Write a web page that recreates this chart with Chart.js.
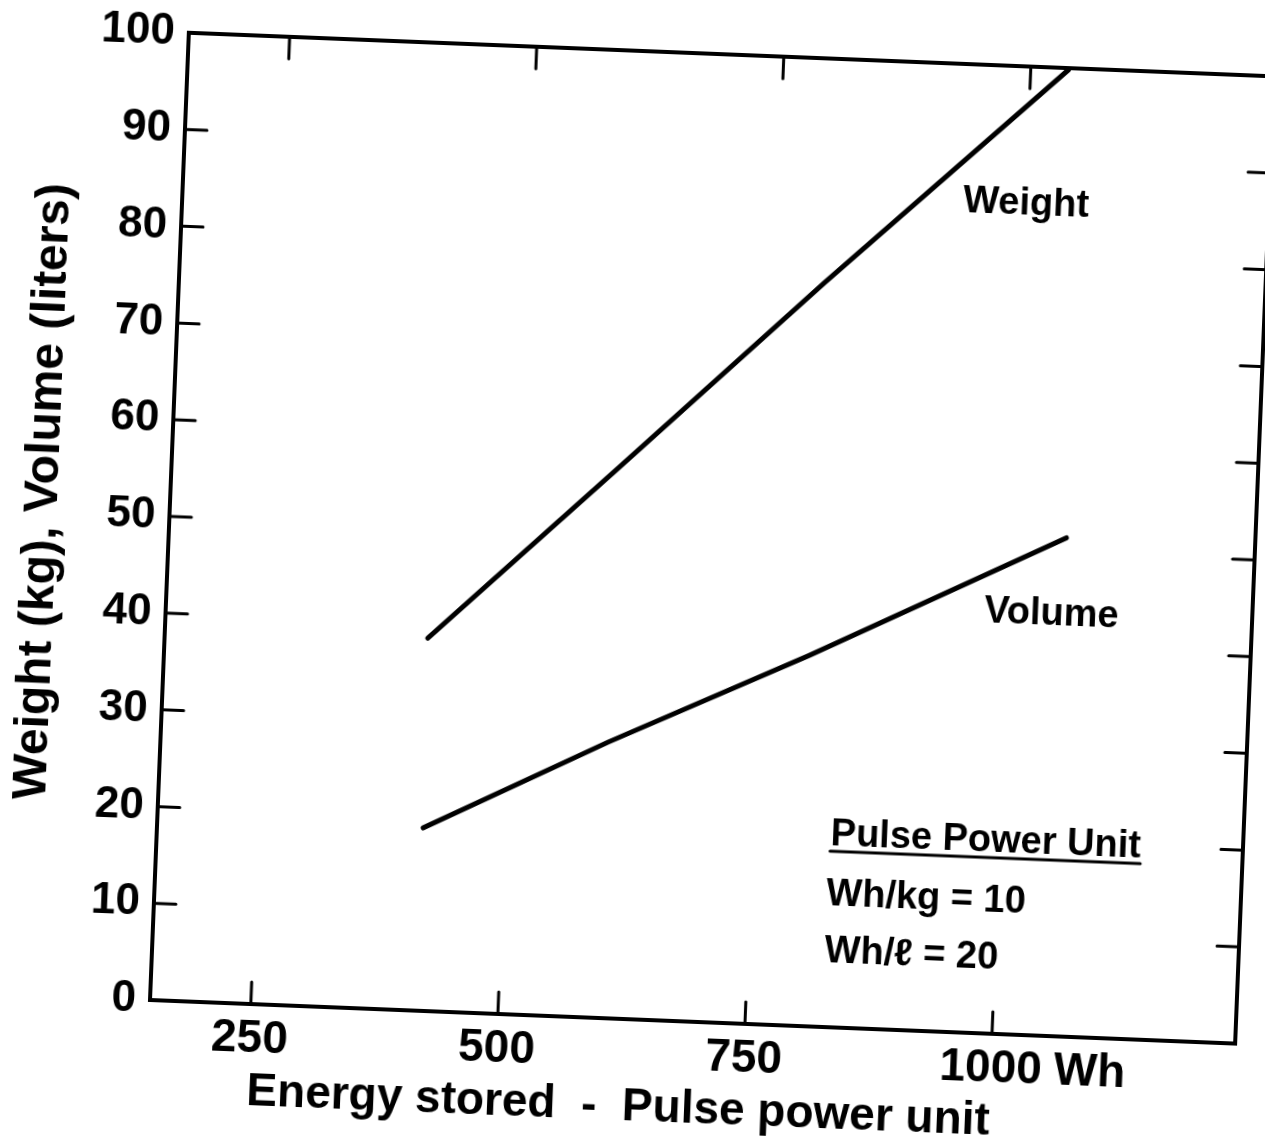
<!DOCTYPE html>
<html>
<head>
<meta charset="utf-8">
<script src="https://cdn.jsdelivr.net/npm/chart.js@4.4.1/dist/chart.umd.min.js"></script>
<style>
  html, body { margin: 0; padding: 0; background: #fff; overflow: hidden; }
  /* the printed sheet sits slightly skewed, turn the whole plot with it */
  #wrap { position: absolute; left: 0; top: 0; width: 1265px; height: 1138px;
          transform-origin: 150px 1000px; transform: rotate(2.3deg); }
</style>
</head>
<body>
<div id="wrap"><canvas id="myChart" width="1265" height="1138"></canvas></div>
<script>
// energy stored (Wh) vs weight (kg) and volume (liters)
const xTicks = [250, 500, 750, 1000];
const yTicks = [0, 10, 20, 30, 40, 50, 60, 70, 80, 90, 100];

const weightWh = [414, 600, 800, 1038];
const weightKg = [38.5, 56.9, 76.8, 99.8];

const volumeWh = [417, 600, 800, 1055];
const volumeL = [18.9, 28.5, 38.3, 51.5];

const notes = [
  { text: "Weight", x: 937, y: 84.7 },
  { text: "Volume", x: 975, y: 42.5 },
  { text: "Pulse Power Unit", x: 829, y: 18.8, underline: true },
  { text: "Wh/kg = 10", x: 827, y: 12.6 },
  { text: "Wh/\u2113 = 20", x: 827.5, y: 6.7 }
];

const FONT = "'Liberation Sans', Arial, sans-serif";

function pts(xs, ys) {
  return xs.map((x, i) => ({ x: x, y: ys[i] }));
}

const frame = {
  id: "frame",
  afterDraw(chart) {
    const c = chart.ctx;
    const a = chart.chartArea;
    const xs = chart.scales.x, ys = chart.scales.y;
    c.save();
    c.strokeStyle = "#000";
    c.fillStyle = "#000";
    c.lineWidth = 4;
    c.lineCap = "round";
    c.strokeRect(a.left, a.top, a.right - a.left, a.bottom - a.top);

    // inward tick marks on all four sides
    c.lineWidth = 3;
    xTicks.forEach(v => {
      const px = xs.getPixelForValue(v);
      c.beginPath();
      c.moveTo(px, a.bottom); c.lineTo(px, a.bottom - 22);
      c.moveTo(px, a.top); c.lineTo(px, a.top + 22);
      c.stroke();
    });
    yTicks.slice(1, -1).forEach(v => {
      const py = ys.getPixelForValue(v);
      c.beginPath();
      c.moveTo(a.left, py); c.lineTo(a.left + 22, py);
      c.moveTo(a.right, py); c.lineTo(a.right - 22, py);
      c.stroke();
    });

    // labels inside the plot
    c.font = "bold 38px " + FONT;
    c.textAlign = "left";
    c.textBaseline = "alphabetic";
    notes.forEach(n => {
      const px = xs.getPixelForValue(n.x), py = ys.getPixelForValue(n.y);
      c.fillText(n.text, px, py);
      if (n.underline) {
        const w = c.measureText(n.text).width;
        c.beginPath();
        c.moveTo(px, py + 6); c.lineTo(px + w, py + 6);
        c.stroke();
      }
    });

    // unit after the last energy tick
    c.font = "bold 46px " + FONT;
    c.textBaseline = "middle";
    const p1000 = xs.getPixelForValue(1000);
    const half = c.measureText("1000").width / 2;
    c.fillText("Wh", p1000 + half + 12, a.bottom + 8 + 27.6);

    // axis titles
    c.textAlign = "center";
    c.fillText("Energy stored  -  Pulse power unit", a.left + 472, a.bottom + 88);
    c.font = "bold 48px " + FONT;
    c.translate(a.left - 126, (a.top + a.bottom) / 2 - 20);
    c.rotate(-Math.PI / 2);
    c.fillText("Weight (kg), Volume (liters)", 0, 0);
    c.restore();
  }
};

const ctx = document.getElementById("myChart").getContext("2d");

new Chart(ctx, {
  type: "line",
  data: {
    datasets: [
      { label: "Weight", data: pts(weightWh, weightKg) },
      { label: "Volume", data: pts(volumeWh, volumeL) }
    ]
  },
  options: {
    responsive: false,
    animation: false,
    layout: { padding: { top: 32, right: 29, left: 0, bottom: 0 } },
    elements: {
      line: { borderColor: "#000", borderWidth: 5, tension: 0, borderCapStyle: "round" },
      point: { radius: 0 }
    },
    plugins: { legend: { display: false }, tooltip: { enabled: false } },
    scales: {
      x: {
        type: "linear",
        min: 148,
        max: 1246,
        afterBuildTicks: s => { s.ticks = xTicks.map(v => ({ value: v })); },
        afterFit: s => { s.height = 138; s.paddingLeft = 0; s.paddingRight = 0; },
        grid: { display: false, drawTicks: false },
        border: { display: false },
        ticks: {
          autoSkip: false,
          maxRotation: 0,
          padding: 8,
          color: "#000",
          callback: v => String(v),
          font: { family: FONT, size: 46, weight: "bold" }
        }
      },
      y: {
        min: 0,
        max: 100,
        afterBuildTicks: s => { s.ticks = yTicks.map(v => ({ value: v })); },
        afterFit: s => { s.width = 150; s.paddingTop = 0; s.paddingBottom = 0; },
        grid: { display: false, drawTicks: false },
        border: { display: false },
        ticks: {
          autoSkip: false,
          padding: 14,
          color: "#000",
          callback: v => String(v),
          font: { family: FONT, size: 44, weight: "bold" }
        }
      }
    }
  },
  plugins: [frame]
});
</script>
</body>
</html>
